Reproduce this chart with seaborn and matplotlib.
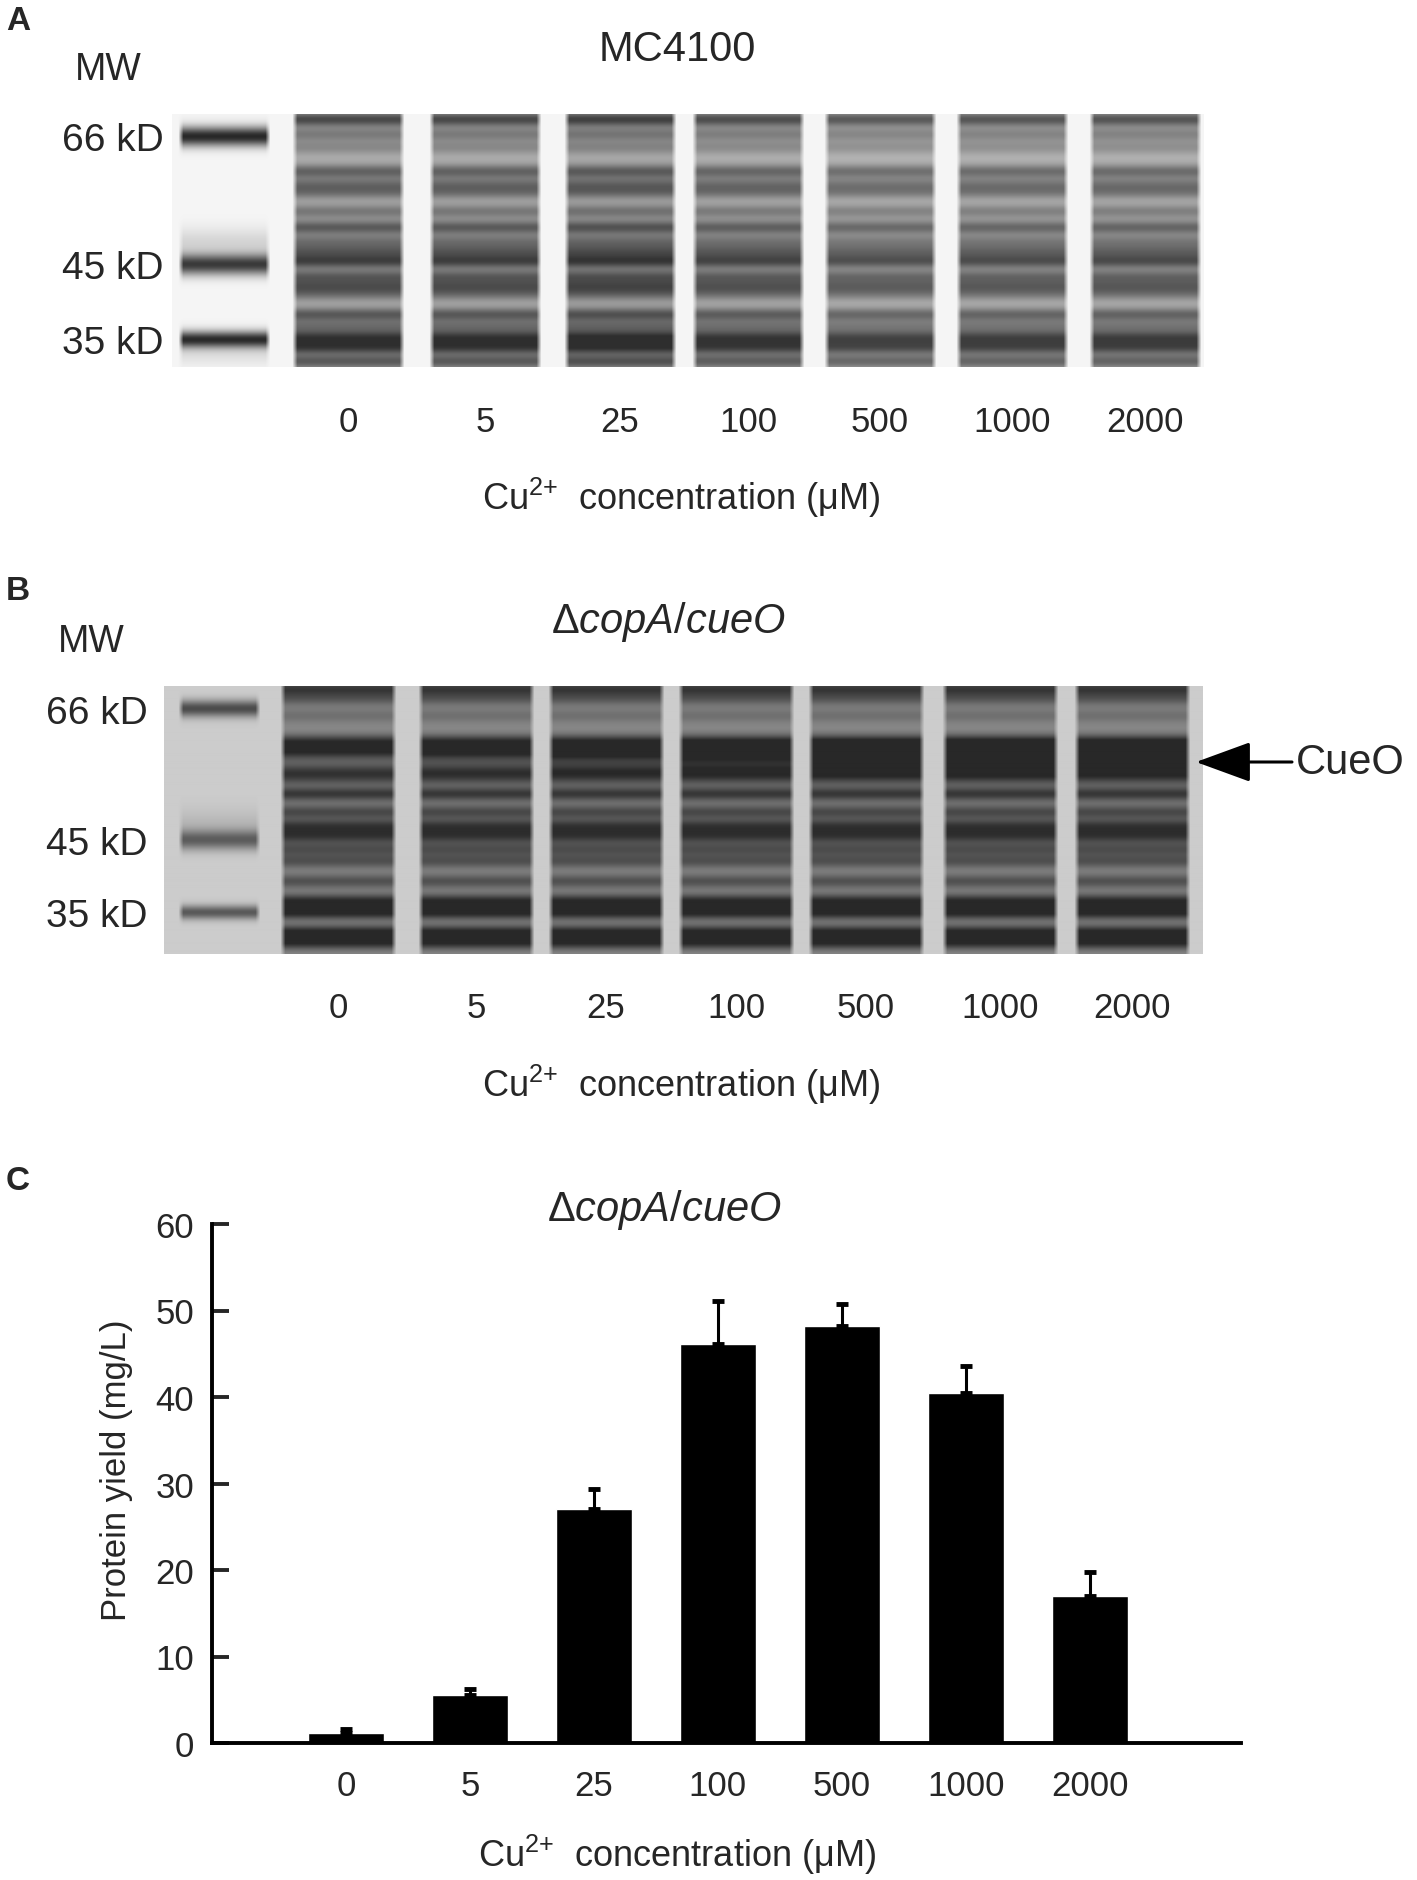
import numpy as np
import pandas as pd
import matplotlib
matplotlib.use('Agg')
import matplotlib.pyplot as plt
import seaborn as sns

# ---- data ----
conc_labels = ['0', '5', '25', '100', '500', '1000', '2000']
marker_labels = ['66 kD', '45 kD', '35 kD']

# panel C : protein yield (mg/L) and SD
yield_mean = [1.2, 5.6, 27.1, 46.1, 48.2, 40.5, 17.0]
yield_err = [0.4, 0.7, 2.3, 5.0, 2.5, 3.1, 2.8]

# gel A (MC4100): band rows in px from top of gel, darkness
gelA_marker_y = [22, 150, 225, 128, 240]
gelA_marker_d = [0.80, 0.72, 0.78, 0.12, 0.08]
gelA_marker_w = [7, 7.5, 6, 10, 8]
gelA_band_y = [5, 20, 33, 57, 70, 78, 97, 113, 127, 137, 147, 162, 172, 180, 200, 212, 223, 233, 247]
gelA_band_d = [0.40, 0.20, 0.15, 0.30, 0.22, 0.22, 0.22, 0.33, 0.22, 0.28, 0.40,
               0.30, 0.30, 0.20, 0.33, 0.22, 0.42, 0.42, 0.33]
gelA_load = [1.0, 1.0, 1.05, 0.97, 0.9, 0.92, 0.93]

# gel B (copA/cueO): band rows, darkness, CueO band strength per lane
gelB_marker_y = [23, 154, 226, 140]
gelB_marker_d = [0.50, 0.40, 0.45, 0.08]
gelB_marker_w = [6, 7, 5, 12]
gelB_band_y = [3, 13, 30, 56, 65, 86, 93, 108, 126, 140, 150, 163, 175, 195, 215, 226, 246, 256]
gelB_band_d = [0.30, 0.18, 0.10, 0.30, 0.26, 0.22, 0.18, 0.32, 0.25, 0.30, 0.30, 0.22,
               0.22, 0.22, 0.36, 0.38, 0.38, 0.35]
gelB_cueo_y = 72
gelB_cueo = [0.12, 0.18, 0.25, 0.33, 0.42, 0.45, 0.38]

# ---- style ----
sns.set_style('white')
plt.rcParams['font.family'] = ['Liberation Sans', 'DejaVu Sans']
plt.rcParams['mathtext.fontset'] = 'custom'
plt.rcParams['mathtext.rm'] = 'Liberation Sans'
plt.rcParams['mathtext.it'] = 'Liberation Sans:italic'

W, H = 1417, 1881
fig = plt.figure(figsize=(W / 100, H / 100), dpi=100)


def ftext(x, y, s, **kw):
    fig.text(x / W, 1 - y / H, s, **kw)


def px_axes(x0, y0, x1, y1):
    return fig.add_axes([x0 / W, 1 - y1 / H, (x1 - x0) / W, (y1 - y0) / H])


def profile(h, ys, ds, ws, base=0.0):
    y = np.arange(h)
    p = np.full(h, base)
    for yb, d, w in zip(ys, ds, ws):
        p = p + d * np.exp(-0.5 * ((y - yb) / w) ** 2)
    return p


def gel(ax, x0, y0, x1, y1, bg, lanes_x, half_w, lane_profiles, mk_x, mk_half, mk_profile):
    h, w = int(y1 - y0), int(x1 - x0)
    xx = np.arange(w)[None, :] + x0
    img = np.full((h, w), bg)
    for cx, prof in zip(lanes_x, lane_profiles):
        mask = np.clip((half_w - np.abs(xx - cx)) / 5.0, 0, 1)
        img = img - mask * prof[:, None]
    mask = np.clip((mk_half - np.abs(xx - mk_x)) / 5.0, 0, 1)
    img = img - mask * mk_profile[:, None]
    img = np.clip(img, 0.14, 1)
    ax.imshow(img, cmap='gray', vmin=0, vmax=1, extent=[x0, x1, y1, y0],
              aspect='auto', interpolation='bilinear')
    ax.set_xlim(x0, x1)
    ax.set_ylim(y1, y0)
    for s in ax.spines.values():
        s.set_visible(False)


xlab = 'Cu$^{2{+}}$  concentration (μM)'
title_B = 'Δ$\\mathit{copA}$/$\\mathit{cueO}$'

# ---- panel A ----
ax_a = px_axes(172, 115, 1204, 368)
lanesA = [348, 485, 620, 748, 880, 1012, 1145]
profA = [np.minimum(profile(253, gelA_band_y, np.array(gelA_band_d) * f,
                            [5] * len(gelA_band_y), base=0.27 * f), 0.78)
         for f in gelA_load]
mkA = np.minimum(profile(253, gelA_marker_y, gelA_marker_d, gelA_marker_w), 0.8)
gel(ax_a, 172, 115, 1204, 368, 0.96, lanesA, 56, profA, 224, 46, mkA)
ax_a.set_xticks(lanesA, conc_labels)
ax_a.set_yticks([115 + v for v in gelA_marker_y[:3]], marker_labels)
ax_a.tick_params(axis='x', length=0, pad=27, labelsize=25)
ax_a.tick_params(axis='y', length=0, pad=6, labelsize=28)

ftext(6, 6, 'A', fontsize=24, fontweight='bold', ha='left', va='top')
ftext(677, 50, 'MC4100', fontsize=30, ha='center', va='center')
ftext(108, 70, 'MW', fontsize=27, ha='center', va='center')
ftext(681, 498, xlab, fontsize=26, ha='center', va='center')

# ---- panel B ----
ax_b = px_axes(164, 687, 1203, 955)
lanesB = [338, 476, 606, 736, 866, 1000, 1132]
profB = []
for c in gelB_cueo:
    p = profile(268, gelB_band_y + [gelB_cueo_y], gelB_band_d + [c],
                [5] * len(gelB_band_y) + [10], base=0.26)
    profB.append(np.minimum(p, 0.64))
mkB = profile(268, gelB_marker_y, gelB_marker_d, gelB_marker_w)
gel(ax_b, 164, 687, 1203, 955, 0.80, lanesB, 58, profB, 219, 41, mkB)
ax_b.set_xticks(lanesB, conc_labels)
ax_b.set_yticks([687 + v for v in gelB_marker_y[:3]], marker_labels)
ax_b.tick_params(axis='x', length=0, pad=27, labelsize=25)
ax_b.tick_params(axis='y', length=0, pad=12, labelsize=28)

ftext(6, 576, 'B', fontsize=24, fontweight='bold', ha='left', va='top')
ftext(668, 622, title_B, fontsize=30, ha='center', va='center')
ftext(91, 642, 'MW', fontsize=27, ha='center', va='center')
ftext(681, 1085, xlab, fontsize=26, ha='center', va='center')
fig.add_artist(matplotlib.patches.FancyArrowPatch(
    (1292 / W, 1 - 763 / H), (1196 / W, 1 - 763 / H), transform=fig.transFigure,
    arrowstyle='-|>,head_length=1.15,head_width=0.42', mutation_scale=30,
    color='black', lw=2.2, shrinkA=0, shrinkB=0))
ftext(1296, 763, 'CueO', fontsize=30, ha='left', va='center')

# ---- panel C ----
ax_c = px_axes(212, 1225, 1241, 1744)
df = pd.DataFrame({'conc': conc_labels, 'yield': yield_mean})
sns.barplot(data=df, x='conc', y='yield', order=conc_labels, color='black',
            saturation=1, width=0.61, ax=ax_c)
ax_c.errorbar(np.arange(len(yield_mean)), yield_mean,
              yerr=[np.zeros(len(yield_err)), yield_err], fmt='none',
              ecolor='black', elinewidth=2.2, capsize=4.5, capthick=3.5)
ax_c.set_xlim(-1.08, 7.22)
ax_c.set_ylim(0, 60)
ax_c.set_yticks(range(0, 61, 10))
sns.despine(ax=ax_c)
for s in ['left', 'bottom']:
    ax_c.spines[s].set_linewidth(2.8)
    ax_c.spines[s].set_color('black')
ax_c.tick_params(axis='y', direction='in', length=12, width=2.8, pad=13,
                 labelsize=25, left=True)
ax_c.tick_params(axis='x', length=0, pad=19, labelsize=25)
ax_c.set_xlabel('')
ax_c.set_ylabel('Protein yield (mg/L)', fontsize=25)
ax_c.yaxis.set_label_coords(-0.077, 0.528)

ftext(6, 1166, 'C', fontsize=24, fontweight='bold', ha='left', va='top')
ftext(664, 1210, title_B, fontsize=30, ha='center', va='center')
ftext(677, 1855, xlab, fontsize=26, ha='center', va='center')

fig.savefig('out.png', dpi=100, facecolor='white')
